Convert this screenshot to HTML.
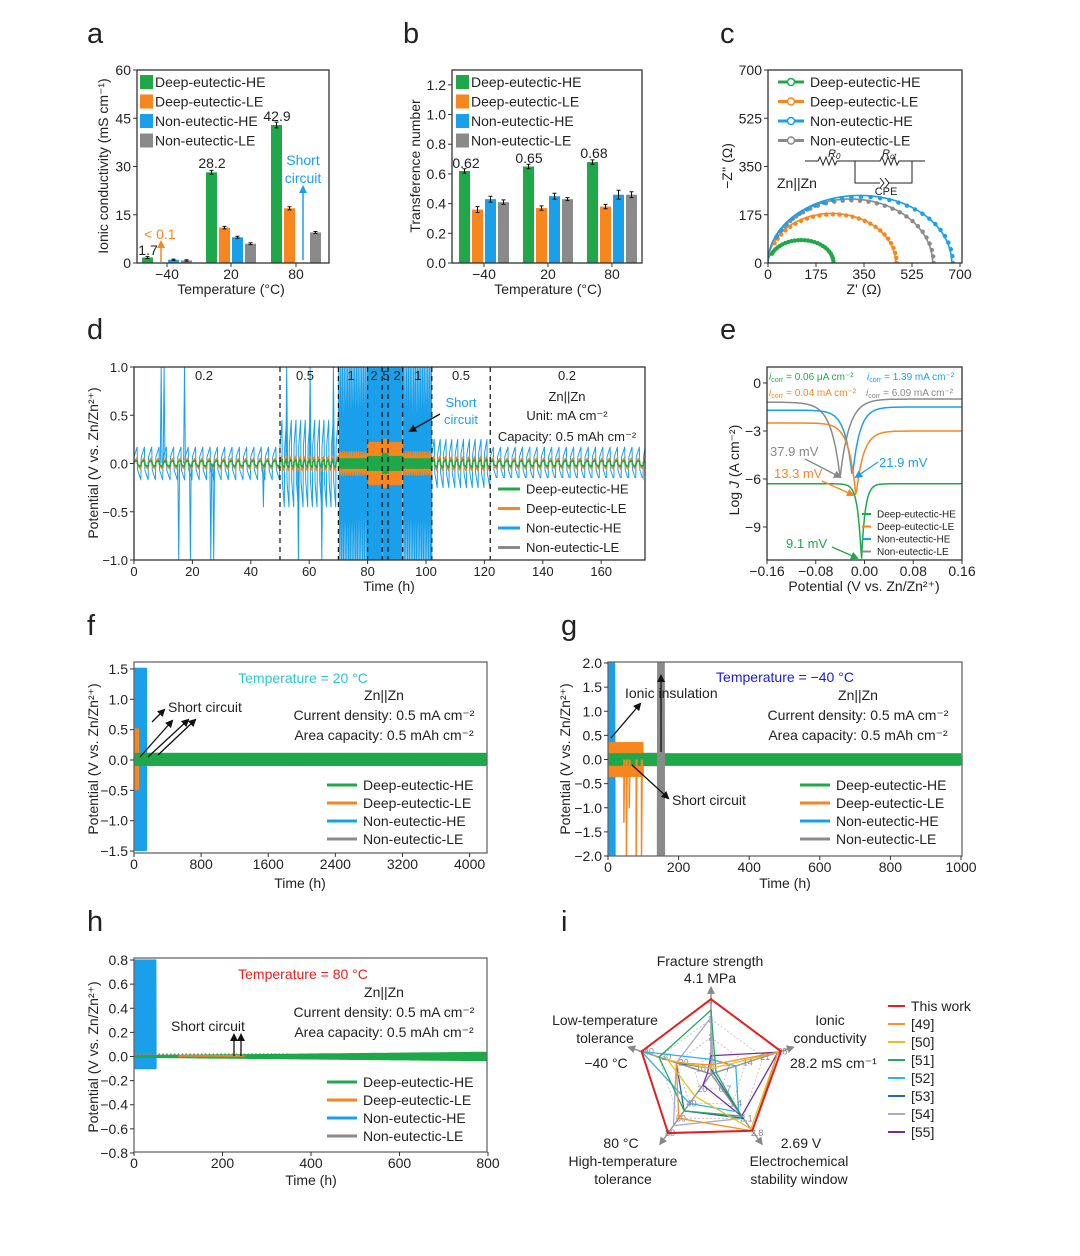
<!DOCTYPE html>
<html><head><meta charset="utf-8">
<style>
body{margin:0;background:#fff}
svg{display:block;font-family:"Liberation Sans",Arial,sans-serif;fill:#222}
.t14{font-size:14px}.t13{font-size:13px}.t11{font-size:11px}.t10{font-size:10px}
.let{font-size:29px}
.mid{text-anchor:middle}.end{text-anchor:end}
</style></head>
<body>
<svg id="fig" width="1080" height="1256" viewBox="0 0 1080 1256">
<defs>
<clipPath id="cpc"><rect x="768" y="70" width="194" height="193"/></clipPath>
<clipPath id="cpd"><rect x="134" y="367" width="511" height="193"/></clipPath>
<clipPath id="cpe"><rect x="767" y="367" width="195" height="193"/></clipPath>
<clipPath id="cpf"><rect x="134" y="662" width="353" height="191"/></clipPath>
<clipPath id="cpg"><rect x="608" y="662" width="354" height="194"/></clipPath>
<clipPath id="cph"><rect x="134" y="958" width="353" height="194"/></clipPath>
<marker id="ak" markerWidth="8" markerHeight="8" refX="6" refY="4" orient="auto" markerUnits="userSpaceOnUse"><path d="M0,0 L8,4 L0,8 z" fill="#111"/></marker>
<marker id="ab" markerWidth="8" markerHeight="8" refX="6" refY="4" orient="auto" markerUnits="userSpaceOnUse"><path d="M0,0 L8,4 L0,8 z" fill="#1aa0ea"/></marker>
<marker id="ao" markerWidth="8" markerHeight="8" refX="6" refY="4" orient="auto" markerUnits="userSpaceOnUse"><path d="M0,0 L8,4 L0,8 z" fill="#f7861e"/></marker>
<marker id="ag" markerWidth="8" markerHeight="8" refX="6" refY="4" orient="auto" markerUnits="userSpaceOnUse"><path d="M0,0 L8,4 L0,8 z" fill="#1fa84a"/></marker>
<marker id="ay" markerWidth="8" markerHeight="8" refX="6" refY="4" orient="auto" markerUnits="userSpaceOnUse"><path d="M0,0 L8,4 L0,8 z" fill="#888"/></marker>
</defs>
<g id="layer"></g>

<!-- panel letters -->
<text class="let" x="87" y="43">a</text>
<text class="let" x="403" y="43">b</text>
<text class="let" x="720" y="43">c</text>
<text class="let" x="87" y="339">d</text>
<text class="let" x="720" y="339">e</text>
<text class="let" x="87" y="635">f</text>
<text class="let" x="561" y="635">g</text>
<text class="let" x="87" y="931">h</text>
<text class="let" x="561" y="931">i</text>

<!-- axis titles -->
<text class="t14 mid" transform="translate(108,166) rotate(-90)">Ionic conductivity (mS cm⁻¹)</text>
<text class="t14 mid" x="231" y="294">Temperature (°C)</text>
<text class="t14 mid" transform="translate(420,166) rotate(-90)">Transference number</text>
<text class="t14 mid" x="548" y="294">Temperature (°C)</text>
<text class="t14 mid" transform="translate(732,166) rotate(-90)">−Z'' (Ω)</text>
<text class="t14 mid" x="864" y="294">Z' (Ω)</text>
<text class="t14 mid" transform="translate(98,463) rotate(-90)">Potential (V vs. Zn/Zn²⁺)</text>
<text class="t14 mid" x="389" y="591">Time (h)</text>
<text class="t14 mid" transform="translate(739,470) rotate(-90)">Log <tspan font-style="italic">J</tspan> (A cm⁻²)</text>
<text class="t14 mid" x="864" y="591">Potential (V vs. Zn/Zn²⁺)</text>
<text class="t14 mid" transform="translate(98,759) rotate(-90)">Potential (V vs. Zn/Zn²⁺)</text>
<text class="t14 mid" x="300" y="888">Time (h)</text>
<text class="t14 mid" transform="translate(570,759) rotate(-90)">Potential (V vs. Zn/Zn²⁺)</text>
<text class="t14 mid" x="785" y="888">Time (h)</text>
<text class="t14 mid" transform="translate(98,1057) rotate(-90)">Potential (V vs. Zn/Zn²⁺)</text>
<text class="t14 mid" x="311" y="1185">Time (h)</text>

<!-- a annotations -->
<text class="t14 mid" x="148" y="255">1.7</text>
<text class="t14" x="144" y="239" fill="#f7861e">&lt; 0.1</text>
<line x1="161" y1="262" x2="161" y2="242" stroke="#f7861e" stroke-width="1.5" marker-end="url(#ao)"/>
<text class="t14 mid" x="212" y="168">28.2</text>
<text class="t14 mid" x="277" y="121">42.9</text>
<text class="t14 mid" x="303" y="165" fill="#1aa0ea">Short</text>
<text class="t14 mid" x="303" y="183" fill="#1aa0ea">circuit</text>
<line x1="303" y1="260" x2="303" y2="187" stroke="#1aa0ea" stroke-width="1.5" marker-end="url(#ab)"/>
<!-- b annotations -->
<text class="t14 mid" x="466" y="168">0.62</text>
<text class="t14 mid" x="529" y="163">0.65</text>
<text class="t14 mid" x="594" y="158">0.68</text>
<!-- c circuit -->
<g stroke="#222" fill="none" stroke-width="1">
<path d="M805,161 H818 l2,-4 l3,8 l3,-8 l3,8 l3,-8 l3,8 l2,-4 H880 l2,-4 l3,8 l3,-8 l3,8 l3,-8 l3,8 l2,-4 H925"/>
<path d="M855,161 V183 H880 M888,183 H912 V161"/>
<path d="M880,178 l4,5 l-4,5 M885,178 l4,5 l-4,5"/>
</g>
<text class="t11" x="828" y="157" font-style="italic">R<tspan font-size="8" dy="2">0</tspan></text>
<text class="t11" x="882" y="157" font-style="italic">R<tspan font-size="8" dy="2">ct</tspan></text>
<text class="t11 mid" x="886" y="195">CPE</text>
<text class="t14" x="777" y="188">Zn||Zn</text>

<!-- d annotations -->
<g class="t13">
<text x="204" y="380" class="mid">0.2</text><text x="305" y="380" class="mid">0.5</text><text x="351" y="380" class="mid">1</text>
<text x="374" y="380" class="mid">2</text><text x="386" y="380" class="mid">5</text><text x="397" y="380" class="mid">2</text>
<text x="418" y="380" class="mid">1</text><text x="461" y="380" class="mid">0.5</text><text x="567" y="380" class="mid">0.2</text>
</g>
<text class="t13 mid" x="567" y="401">Zn||Zn</text>
<text class="t13 mid" x="567" y="420">Unit: mA cm⁻²</text>
<text class="t13 mid" x="567" y="441">Capacity: 0.5 mAh cm⁻²</text>
<text class="t13 mid" x="461" y="407" fill="#1aa0ea">Short</text>
<text class="t13 mid" x="461" y="424" fill="#1aa0ea">circuit</text>
<line x1="440" y1="414" x2="410" y2="431" stroke="#111" stroke-width="1.3" marker-end="url(#ak)"/>

<!-- e annotations -->
<g class="t10">
<text x="769" y="380" fill="#1fa84a"><tspan font-style="italic">i</tspan><tspan font-size="7" dy="2">corr</tspan><tspan dy="-2"> = 0.06 μA cm⁻²</tspan></text>
<text x="867" y="380" fill="#1aa0ea"><tspan font-style="italic">i</tspan><tspan font-size="7" dy="2">corr</tspan><tspan dy="-2"> = 1.39 mA cm⁻²</tspan></text>
<text x="769" y="396" fill="#f7861e"><tspan font-style="italic">i</tspan><tspan font-size="7" dy="2">corr</tspan><tspan dy="-2"> = 0.04 mA cm⁻²</tspan></text>
<text x="866" y="396" fill="#888"><tspan font-style="italic">i</tspan><tspan font-size="7" dy="2">corr</tspan><tspan dy="-2"> = 6.09 mA cm⁻²</tspan></text>
</g>
<text class="t13" x="770" y="456" fill="#888">37.9 mV</text>
<line x1="805" y1="459" x2="840" y2="477" stroke="#888" stroke-width="1.3" marker-end="url(#ay)"/>
<text class="t13" x="879" y="467" fill="#1aa0ea">21.9 mV</text>
<line x1="878" y1="462" x2="856" y2="477" stroke="#1aa0ea" stroke-width="1.3" marker-end="url(#ab)"/>
<text class="t13" x="774" y="478" fill="#f7861e">13.3 mV</text>
<line x1="822" y1="481" x2="853" y2="495" stroke="#f7861e" stroke-width="1.3" marker-end="url(#ao)"/>
<text class="t13" x="786" y="548" fill="#1fa84a">9.1 mV</text>
<line x1="832" y1="547" x2="857" y2="558" stroke="#1fa84a" stroke-width="1.3" marker-end="url(#ag)"/>

<!-- f annotations -->
<text class="t14 mid" x="303" y="683" fill="#2cc6d0">Temperature = 20 °C</text>
<text class="t14 mid" x="384" y="700">Zn||Zn</text>
<text class="t14 mid" x="384" y="720">Current density: 0.5 mA cm⁻²</text>
<text class="t14 mid" x="384" y="740">Area capacity: 0.5 mAh cm⁻²</text>
<text class="t14" x="168" y="712">Short circuit</text>
<g stroke="#111" stroke-width="1.3">
<line x1="152" y1="722" x2="164" y2="710" marker-end="url(#ak)"/>
<line x1="140" y1="757" x2="172" y2="721" marker-end="url(#ak)"/>
<line x1="148" y1="757" x2="188" y2="720" marker-end="url(#ak)"/>
<line x1="158" y1="755" x2="195" y2="720" marker-end="url(#ak)"/>
</g>
<!-- g annotations -->
<text class="t14 mid" x="785" y="682" fill="#1a1ae6">Temperature = −40 °C</text>
<text class="t14 mid" x="858" y="700">Zn||Zn</text>
<text class="t14 mid" x="858" y="720">Current density: 0.5 mA cm⁻²</text>
<text class="t14 mid" x="858" y="740">Area capacity: 0.5 mAh cm⁻²</text>
<text class="t14" x="625" y="698">Ionic insulation</text>
<text class="t14" x="672" y="805">Short circuit</text>
<g stroke="#111" stroke-width="1.3">
<line x1="611" y1="738" x2="640" y2="704" marker-end="url(#ak)"/>
<line x1="661" y1="752" x2="661" y2="676" marker-end="url(#ak)"/>
<line x1="632" y1="765" x2="668" y2="798" marker-end="url(#ak)"/>
</g>
<!-- h annotations -->
<text class="t14 mid" x="303" y="979" fill="#e52020">Temperature = 80 °C</text>
<text class="t14 mid" x="384" y="997">Zn||Zn</text>
<text class="t14 mid" x="384" y="1017">Current density: 0.5 mA cm⁻²</text>
<text class="t14 mid" x="384" y="1037">Area capacity: 0.5 mAh cm⁻²</text>
<text class="t14" x="171" y="1031">Short circuit</text>
<g stroke="#111" stroke-width="1.3">
<line x1="234" y1="1056" x2="234" y2="1035" marker-end="url(#ak)"/>
<line x1="241" y1="1056" x2="241" y2="1035" marker-end="url(#ak)"/>
</g>
<!-- i labels -->
<g class="t14">
<text x="710" y="966" class="mid">Fracture strength</text>
<text x="710" y="983" class="mid">4.1 MPa</text>
<text x="830" y="1025" class="mid">Ionic</text>
<text x="830" y="1043" class="mid">conductivity</text>
<text x="790" y="1068">28.2 mS cm⁻¹</text>
<text x="801" y="1148" class="mid">2.69 V</text>
<text x="799" y="1166" class="mid">Electrochemical</text>
<text x="799" y="1184" class="mid">stability window</text>
<text x="621" y="1148" class="mid">80 °C</text>
<text x="623" y="1166" class="mid">High-temperature</text>
<text x="623" y="1184" class="mid">tolerance</text>
<text x="605" y="1025" class="mid">Low-temperature</text>
<text x="605" y="1043" class="mid">tolerance</text>
<text x="606" y="1068" class="mid">−40 °C</text>
</g>
</svg>
<script>
const NS='http://www.w3.org/2000/svg';
const layer=document.getElementById('layer');
function mk(tag,attrs,parent){const e=document.createElementNS(NS,tag);for(const k in attrs)e.setAttribute(k,attrs[k]);(parent||layer).appendChild(e);return e;}
const G='#1fa84a',O='#f7861e',B='#1aa0ea',K='#8a8a8a';
const seriesNames=['Deep-eutectic-HE','Deep-eutectic-LE','Non-eutectic-HE','Non-eutectic-LE'];
const seriesColors=[G,O,B,K];

function frame(x0,y0,x1,y1,name,col){
  const r=mk('rect',{x:x0,y:y0,width:x1-x0,height:y1-y0,fill:'none',stroke:col||'#333','stroke-width':1.3});
  
  
}
function ticksY(x0,vals,labels,yf,name,fs){
  vals.forEach((v,i)=>{
    const l=mk('line',{x1:x0-4,x2:x0,y1:yf(v),y2:yf(v),stroke:'#333','stroke-width':1});
    
    
    const t=mk('text',{x:x0-6,y:yf(v)+5,'text-anchor':'end','font-size':fs||14});
    t.textContent=labels[i];
    
    
  });
}
function ticksX(y0,vals,labels,xf,name,fs){
  vals.forEach((v,i)=>{
    const l=mk('line',{x1:xf(v),x2:xf(v),y1:y0,y2:y0+4,stroke:'#333','stroke-width':1});
    
    
    const t=mk('text',{x:xf(v),y:y0+16,'text-anchor':'middle','font-size':fs||14});
    t.textContent=labels[i];
    
    
  });
}
function legendLines(x,y0,dy,len,name,fs,marker){
  seriesNames.forEach((s,i)=>{
    const y=y0+i*dy;
    const l=mk('line',{x1:x,x2:x+len,y1:y,y2:y,stroke:seriesColors[i],'stroke-width':fs<12?2:3});
    
    
    if(marker){const c=mk('circle',{cx:x+len/2,cy:y,r:3.5,fill:'#fff',stroke:seriesColors[i],'stroke-width':1.5});
      
      }
    const t=mk('text',{x:x+len+6,y:y+5*fs/14,'font-size':fs});
    t.textContent=s;
    
    
  });
}
function legendBoxes(x,y0,dy,name){
  seriesNames.forEach((s,i)=>{
    const y=y0+i*dy;
    const r=mk('rect',{x:x,y:y-7,width:13,height:14,fill:seriesColors[i]});
    
    
    const t=mk('text',{x:x+15,y:y+5,'font-size':14});
    t.textContent=s;
    
    
  });
}
function poly(pts,color,w,clip,name){
  const p=mk('polyline',{points:pts.map(q=>q[0].toFixed(1)+','+q[1].toFixed(1)).join(' '),fill:'none',stroke:color,'stroke-width':w,'clip-path':'url(#'+clip+')','stroke-linejoin':'round'});
  
  
  return p;
}

/* ---------- panel a ---------- */
const tempCats=['−40','20','80'];
const condDHE=[1.7,28.2,42.9], condDLE=[0.05,11.0,17.0], condNHE=[1.0,8.0,0], condNLE=[0.8,6.0,9.5];
const condErr=[[0.3,0.6,0.9],[0,0.4,0.5],[0.2,0.3,0],[0.2,0.3,0.3]];
const aTicks=[0,15,30,45,60];
const ya=v=>263-v/60*193, xa=[167,231,296];
function bars(sets,errs,yf,xc,name){
  sets.forEach((arr,s)=>arr.forEach((v,i)=>{
    if(v<=0)return;
    const x=xc[i]+(s-1.5)*13-5.5;
    const r=mk('rect',{x:x,y:yf(v),width:11,height:yf(0)-yf(v),fill:seriesColors[s]});
    
    
    const e=errs[s][i]; if(!e)return;
    const eb=mk('path',{d:`M${x+5.5},${yf(v+e)}V${yf(v-e)}M${x+3.5},${yf(v+e)}h4M${x+3.5},${yf(v-e)}h4`,stroke:'#111','stroke-width':1,fill:'none'});
    
    
  }));
}
bars([condDHE,condDLE,condNHE,condNLE],condErr,ya,xa,'a');
frame(137,70,329,263,'a');
ticksY(137,aTicks,aTicks.map(String),ya,'a');
ticksX(263,[0,1,2],tempCats,i=>xa[i],'a');
legendBoxes(140,82,19.5,'a');

/* ---------- panel b ---------- */
const trDHE=[0.62,0.65,0.68], trDLE=[0.36,0.37,0.38], trNHE=[0.43,0.45,0.46], trNLE=[0.41,0.43,0.46];
const trErr=[[0.015,0.015,0.015],[0.02,0.015,0.015],[0.02,0.02,0.03],[0.015,0.01,0.02]];
const bTicks=[0,0.2,0.4,0.6,0.8,1.0,1.2];
const yb=v=>263-v/1.3*193, xb=[484,548,612];
bars([trDHE,trDLE,trNHE,trNLE],trErr,yb,xb,'b');
frame(452,70,642,263,'b');
ticksY(452,bTicks,bTicks.map(v=>v.toFixed(1)),yb,'b');
ticksX(263,[0,1,2],tempCats,i=>xb[i],'b');
legendBoxes(456,82,19.5,'b');

/* ---------- panel c ---------- */
const eisDiam=[235,465,670,600], eisHeight=[85,180,245,232];
const cTicks=[0,175,350,525,700];
const xc=v=>768+v/700*192, yc=v=>263-v/700*193;
[0,1,3,2].forEach(s=>{
  const D=eisDiam[s],H=eisHeight[s],pts=[];
  for(let k=0;k<=60;k++){const th=Math.PI*k/60;pts.push([xc(D/2-D/2*Math.cos(th)),yc(H*Math.sin(th))]);}
  poly(pts,seriesColors[s],1.6,'cpc','c-fit-curve');
  for(let k=4;k<=30;k++){const th=Math.PI*k/30;
    const c=mk('circle',{cx:xc(D/2-D/2*Math.cos(th)+4),cy:yc(H*Math.sin(th)*0.98),r:2.2,fill:seriesColors[s],'clip-path':'url(#cpc)'});
    
    }
});
frame(768,70,962,263,'c');
ticksY(768,cTicks,cTicks.map(String),yc,'c');
ticksX(263,cTicks,cTicks.map(String),xc,'c');
legendLines(778,82,19.5,26,'c',14,true);

/* ---------- panel d ---------- */
const segStart=[0,50,70,80,85,87,92,102,122], segEnd=[50,70,80,85,87,92,102,122,175];
const segCurrent=['0.2','0.5','1','2','5','2','1','0.5','0.2'];
const segPeriod=[2.5,1.6,0.6,0.4,0.3,0.4,0.6,2.0,2.5];
const ampDHE=[0.03,0.04,0.05,0.07,0.1,0.07,0.05,0.04,0.03];
const ampDLE=[0.06,0.08,0.12,0.22,0.25,0.22,0.12,0.08,0.06];
const ampNHE=[0.17,0.45,1.3,1.3,1.3,1.3,1.3,0.25,0.17];
const ampNLE=[0.04,0.06,0.08,0.1,0.12,0.1,0.08,0.06,0.04];
const spikeT=[9,10,15,17,19,26,27,44,52,56,60,64,68];
const spikeV=[1,1,-1,1,-1,-1,-1,-0.45,1,-1,1,-1,1];
const xd=t=>134+t*511/175, yd=v=>463.5-v*96.5;
function wave(amps){
  const pts=[];
  for(let s=0;s<segStart.length;s++){
    let t=segStart[s],sg=1;const half=segPeriod[s]/2,A=amps[s];
    while(t<segEnd[s]-1e-6){
      pts.push([xd(t),yd(sg*A*0.4)]);
      pts.push([xd(Math.min(t+half*0.85,segEnd[s])),yd(sg*A)]);
      t+=half;sg=-sg;
    }
  }
  return pts;
}
poly(wave(ampNHE),B,1,'cpd','d-trace-non-eutectic-he');
spikeT.forEach((t,i)=>{poly([[xd(t),yd(0)],[xd(t+0.3),yd(spikeV[i])],[xd(t+0.6),yd(0)]],B,1,'cpd','d-spike');});
poly(wave(ampNLE),K,1.2,'cpd','d-trace-non-eutectic-le');
poly(wave(ampDLE),O,1.2,'cpd','d-trace-deep-eutectic-le');
poly(wave(ampDHE),G,1.6,'cpd','d-trace-deep-eutectic-he');
segStart.slice(1).forEach(t=>{
  const l=mk('line',{x1:xd(t),x2:xd(t),y1:367,y2:560,stroke:'#111','stroke-width':1.2,'stroke-dasharray':'5,4'});
  
  
});
const wb=mk('rect',{x:495,y:478,width:148,height:79,fill:'#fff'});


frame(134,367,645,560,'d');
const dxT=[0,20,40,60,80,100,120,140,160], dyT=[-1,-0.5,0,0.5,1];
ticksY(134,dyT,dyT.map(v=>v.toFixed(1).replace('-','−')),yd,'d',13);
ticksX(560,dxT,dxT.map(String),xd,'d',13);
legendLines(498,489,19.5,22,'d',13,false);

/* ---------- panel e ---------- */
const tafelEcorr=[-0.005,-0.014,-0.02,-0.04];
const tafelMin=[-11.1,-7.1,-5.9,-5.9];
const tafelLeft=[-6.3,-2.5,-1.7,-1.2];
const tafelRight=[-6.3,-3.0,-1.5,-1.0];
const tafelWidth=[0.006,0.012,0.012,0.015];
const xe=v=>767+(v+0.16)/0.32*195, ye=v=>383-v*16;
[3,2,1,0].forEach(s=>{
  const pts=[];
  for(let k=0;k<=200;k++){const x=-0.16+0.32*k/200;const d=x-tafelEcorr[s];
    const top=d<0?tafelLeft[s]:tafelRight[s];
    pts.push([xe(x),ye(tafelMin[s]+(top-tafelMin[s])*(1-Math.exp(-Math.abs(d)/tafelWidth[s])))]);}
  poly(pts,seriesColors[s],1.5,'cpe','e-tafel-curve');
});
frame(767,367,962,560,'e');
const eyT=[0,-3,-6,-9], exT=[-0.16,-0.08,0,0.08,0.16];
ticksY(767,eyT,eyT.map(v=>String(v).replace('-','−')),ye,'e',14);
ticksX(560,exT,['−0.16','−0.08','0.00','0.08','0.16'],xe,'e',14);
legendLines(862,514,12.5,9,'e',10,false);

/* ---------- bands helper for f,g,h ---------- */
function band(t0,t1,a0,a1,c,n,xf,yf,color,w,clip,name){
  const pts=[];
  for(let k=0;k<=n;k++){const t=t0+(t1-t0)*k/n;const a=a0+(a1-a0)*k/n;pts.push([xf(t),yf(c+(k%2?a:-a))]);}
  poly(pts,color,w,clip,name);
}
/* ---------- panel f ---------- */
const fSeriesT0=[0,0,0,0], fSeriesT1=[4200,55,150,300], fSeriesAmp=[0.1,0.5,1.5,0.1], fSeriesN=[900,40,70,60];
const xf=t=>134+t*0.0839, yf=v=>760-v*60.7;
[2,3,1,0].forEach(s=>band(fSeriesT0[s],fSeriesT1[s],fSeriesAmp[s],fSeriesAmp[s],0.01,fSeriesN[s],xf,yf,seriesColors[s],1.2,'cpf','f-trace'));
frame(134,662,487,853,'f','#666');
const fyT=[-1.5,-1,-0.5,0,0.5,1,1.5], fxT=[0,800,1600,2400,3200,4000];
ticksY(134,fyT,fyT.map(v=>v.toFixed(1).replace('-','−')),yf,'f',14);
ticksX(853,fxT,fxT.map(String),xf,'f',14);
legendLines(327,785,18,30,'f',14,false);

/* ---------- panel g ---------- */
const gSeriesT0=[0,0,0,100], gSeriesT1=[1000,100,20,160], gSeriesAmp=[0.12,0.35,2.2,0.13], gSeriesN=[900,80,14,40];
const gGrayShortT=[140,160], gGrayShortAmp=2.2;
const gOrangeDipT=[45,52,60,80,95], gOrangeDipV=[-1.3,-2,-1.0,-2,-2];
const xg=t=>608+t*0.353, yg=v=>759.5-v*48.25;
[2,1,3,0].forEach(s=>band(gSeriesT0[s],gSeriesT1[s],gSeriesAmp[s],gSeriesAmp[s],0,gSeriesN[s],xg,yg,seriesColors[s],1.2,'cpg','g-trace'));
band(gGrayShortT[0],gGrayShortT[1],gGrayShortAmp,gGrayShortAmp,0,24,xg,yg,K,1.2,'cpg','g-gray-short');
gOrangeDipT.forEach((t,i)=>poly([[xg(t),yg(0)],[xg(t),yg(gOrangeDipV[i])],[xg(t+2),yg(0)]],O,1.5,'cpg','g-orange-dip'));
frame(608,662,962,856,'g','#666');
const gyT=[-2,-1.5,-1,-0.5,0,0.5,1,1.5,2], gxT=[0,200,400,600,800,1000];
ticksY(608,gyT,gyT.map(v=>v.toFixed(1).replace('-','−')),yg,'g',14);
ticksX(856,gxT,gxT.map(String),xg,'g',14);
legendLines(800,785,18,30,'g',14,false);

/* ---------- panel h ---------- */
const hSeriesT0=[0,100,0,0], hSeriesT1=[800,250,50,350], hAmp0=[0.006,0.006,0.45,0.012], hAmp1=[0.035,0.006,0.45,0.012];
const hCenter=[0,0.005,0.35,0.01], hN=[900,60,60,80];
const xh=t=>134+t*0.4425, yh=v=>1056.5-v*120.6;
[2,3,0,1].forEach(s=>band(hSeriesT0[s],hSeriesT1[s],hAmp0[s],hAmp1[s],hCenter[s],hN[s],xh,yh,seriesColors[s],1.2,'cph','h-trace'));
frame(134,958,487,1152,'h','#666');
const hyT=[-0.8,-0.6,-0.4,-0.2,0,0.2,0.4,0.6,0.8], hxT=[0,200,400,600,800];
ticksY(134,hyT,hyT.map(v=>v.toFixed(1).replace('-','−')),yh,'h',14);
ticksX(1152,hxT,hxT.map(String),xh,'h',14);
legendLines(327,1082,18,30,'h',14,false);

/* ---------- panel i radar ---------- */
const radarMax=[4,28,2.8,80,40];
const radarTickLabels=[['1','2','3','4'],['7','14','21','28'],['0.7','1.4','2.1','2.8'],['20','40','60','80'],['−10','−20','−30','−40']];
const radarNames=['This work','[49]','[50]','[51]','[52]','[53]','[54]','[55]'];
const radarColors=['#e02020','#f5922a','#e6c020','#2aa860','#35b0e8','#2a66a8','#a8a8d0','#7030a0'];
const vThis=[4.1,28.2,2.69,80,40];
const v49=[0.5,27,2.7,60,20];
const v50=[0.3,27,2.6,30,25];
const v51=[3.5,2,2.0,50,30];
const v52=[0.8,10,1.8,40,40];
const v53=[0.3,1,2.1,50,20];
const v54=[3.1,1,2.1,70,20];
const v55=[1.0,27,2.0,15,2];
const radarVals=[vThis,v49,v50,v51,v52,v53,v54,v55];
const cx=711,cy=1074,R=73;
const ang=k=>(-90+72*k)*Math.PI/180;
const rp=(k,f)=>[cx+R*f*Math.cos(ang(k)),cy+R*f*Math.sin(ang(k))];
[0.25,0.5,0.75].forEach(f=>{
  const p=mk('polygon',{points:[0,1,2,3,4].map(k=>rp(k,f).join(',')).join(' '),fill:'none',stroke:'#bbb','stroke-dasharray':'2,2','stroke-width':0.8});
  
  
});
[0,1,2,3,4].forEach(k=>{
  const e=rp(k,1.18);
  const l=mk('line',{x1:cx,y1:cy,x2:e[0],y2:e[1],stroke:'#999','stroke-width':1.5,'marker-end':'url(#ay)'});
  
  
  radarTickLabels[k].forEach((s,j)=>{const q=rp(k,(j+1)/4);
    const t=mk('text',{x:q[0]-3,y:q[1]+3,'font-size':9,fill:'#888'});
    t.textContent=s;
    
    });
});
for(let s=radarVals.length-1;s>=0;s--){
  const p=mk('polygon',{points:radarVals[s].map((v,k)=>rp(k,Math.min(v/radarMax[k],1.03)).join(',')).join(' '),fill:'none',stroke:radarColors[s],'stroke-width':s===0?2:1.3});
  
  
}
radarNames.forEach((n,i)=>{
  const y=1006+i*18;
  const l=mk('line',{x1:888,x2:905,y1:y,y2:y,stroke:radarColors[i],'stroke-width':2});
  
  
  const t=mk('text',{x:911,y:y+5,'font-size':14});
  t.textContent=n;
  
  
});
</script>
</body></html>
